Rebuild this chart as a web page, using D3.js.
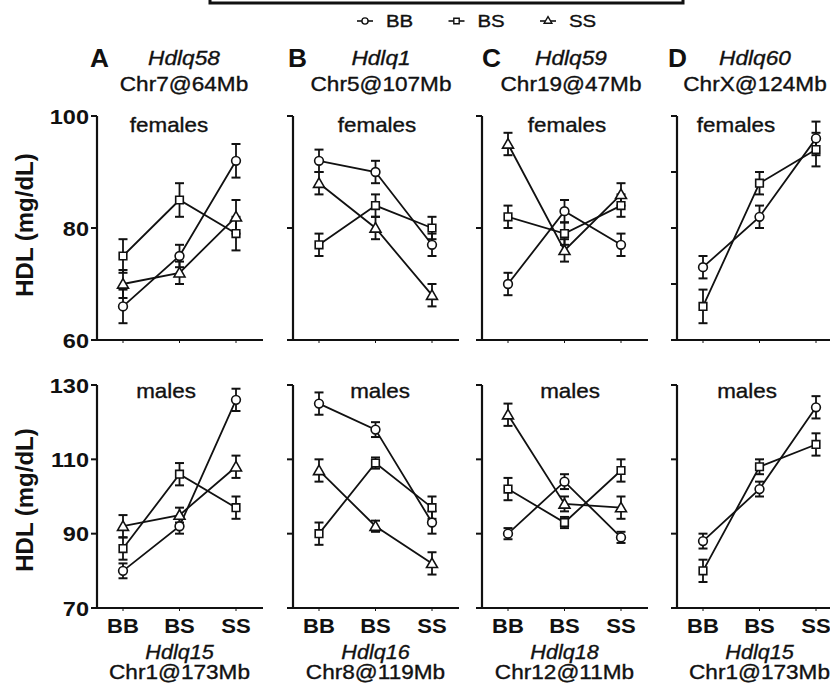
<!DOCTYPE html>
<html><head><meta charset="utf-8">
<script src="https://cdn.jsdelivr.net/npm/d3@7"></script>
<style>html,body{margin:0;padding:0;background:#fff;}svg{display:block;}</style>
</head><body>
<script>
// ---------- data ----------
const genotypes = ["BB", "BS", "SS"];
const panelLetters = ["A", "B", "C", "D"];
const topLoci = ["Hdlq58", "Hdlq1", "Hdlq59", "Hdlq60"];
const topChr = ["Chr7@64Mb", "Chr5@107Mb", "Chr19@47Mb", "ChrX@124Mb"];
const bottomLoci = ["Hdlq15", "Hdlq16", "Hdlq18", "Hdlq15"];
const bottomChr = ["Chr1@173Mb", "Chr8@119Mb", "Chr12@11Mb", "Chr1@173Mb"];
const femaleTicks = [60, 80, 100];
const femaleTicksD = [60, 70, 80, 90, 100];
const maleTicks = [70, 90, 110, 130];

const femBB = [[66, 75, 92], [92, 90, 77], [70, 83, 77], [73, 82, 96]];
const femBBerr = [[3, 2, 3], [2, 2, 2], [2, 2, 2], [2, 2, 3]];
const femBS = [[75, 85, 79], [77, 84, 80], [82, 79, 84], [66, 88, 94]];
const femBSerr = [[3, 3, 3], [2, 2, 2], [2, 2, 2], [3, 2, 3]];
const femSS = [[70, 72, 82], [88, 80, 68], [95, 76, 86], null];
const femSSerr = [[2.5, 2, 3], [2, 2, 2], [2, 2, 2], null];

const malBB = [[80, 92, 126], [125, 118, 93], [90, 104, 89], [88, 102, 124]];
const malBBerr = [[2, 2, 3], [3, 2, 3], [1.5, 2, 1.5], [2, 2, 3]];
const malBS = [[86, 106, 97], [90, 109, 97], [102, 93, 107], [80, 108, 114]];
const malBSerr = [[3, 3, 3], [3, 1.5, 3], [3, 1.5, 3], [3, 2, 3]];
const malSS = [[92, 95, 108], [107, 92, 82], [122, 98, 97], null];
const malSSerr = [[3, 2, 3], [3, 1.5, 3], [3, 2, 3], null];

const legendItems = ["BB", "BS", "SS"];

// ---------- layout ----------
const W = 830, H = 691;
const FONT = "'Liberation Sans', Arial, Helvetica, sans-serif";
const axisX = [97, 293, 482, 677];
const letterX = [90, 288, 482, 668];
const headX = [184, 381, 571, 755];
const femLabelX = [169, 377, 567, 736];
const malLabelX = [166, 380, 570, 747];

const svg = d3.select("body").append("svg").attr("width", W).attr("height", H)
  .style("font-family", FONT);

function T(sel, x, y, s, o = {}) {
  const t = sel.append("text")
    .attr("transform", `translate(${x},${y})` + (o.rot ? ` rotate(${o.rot})` : "") + ` scale(${o.sx || 1.12},1)`)
    .attr("text-anchor", o.anchor || "middle")
    .style("font-size", (o.size || 20) + "px")
    .style("font-weight", o.weight || "normal")
    .style("font-style", o.style || "normal")
    .attr("fill", "#111")
    .text(s);
  if (!o.weight) t.attr("stroke", "#111").attr("stroke-width", 0.35);
  return t;
}

// legend box (cut off at top)
svg.append("path").attr("d", "M210,-6V3H683V-6").attr("fill", "none")
  .attr("stroke", "#111").attr("stroke-width", 3);

const shapes = {
  BB: d3.symbol().type(d3.symbolCircle),
  BS: d3.symbol().type(d3.symbolSquare),
  SS: d3.symbol().type(d3.symbolTriangle)
};
const shapeSize = { BB: 60, BS: 58, SS: 52 };

// legend
const legX = d3.scalePoint().domain(legendItems).range([365, 548]);
legendItems.forEach(k => {
  const cx = legX(k);
  svg.append("line").attr("x1", cx - 8).attr("x2", cx + 8).attr("y1", 21).attr("y2", 21)
    .attr("stroke", "#111").attr("stroke-width", 1.6);
  svg.append("path").attr("d", shapes[k].size(shapeSize[k] * 0.5)())
    .attr("transform", `translate(${cx},21)`).attr("fill", "#fff").attr("stroke", "#111").attr("stroke-width", 1.4);
  T(svg, cx + 21, 27, k, { size: 17, anchor: "start", sx: 1.2 });
});

const yTop = d3.scaleLinear().domain([60, 100]).range([340, 116]);
const yBot = d3.scaleLinear().domain([70, 130]).range([608, 385]);

function drawPanel(i, y, ticks, series, labelText, labelX, labelY, showTickLabels) {
  const ax = axisX[i];
  const x = d3.scalePoint().domain(genotypes).range([ax + 26, ax + 139]);
  const g = svg.append("g");
  const [y0, y1] = y.range();
  // y axis
  g.append("line").attr("x1", ax).attr("x2", ax).attr("y1", y0).attr("y2", y1)
    .attr("stroke", "#111").attr("stroke-width", 2.2);
  ticks.forEach(t => {
    g.append("line").attr("x1", ax - 6).attr("x2", ax).attr("y1", y(t)).attr("y2", y(t))
      .attr("stroke", "#111").attr("stroke-width", 2);
    if (showTickLabels) T(g, ax - 8, y(t) + 7.5, String(t), { size: 21, weight: "bold", anchor: "end", sx: 1.12 });
  });
  // x axis
  g.append("line").attr("x1", ax - 1).attr("x2", ax + 166).attr("y1", y0).attr("y2", y0)
    .attr("stroke", "#111").attr("stroke-width", 2.2);
  genotypes.forEach(gt => {
    g.append("line").attr("x1", x(gt)).attr("x2", x(gt)).attr("y1", y0).attr("y2", y0 + 3)
      .attr("stroke", "#111").attr("stroke-width", 1);
  });
  T(g, labelX, labelY, labelText, { size: 20, sx: 1.12 });

  series.forEach(s => {
    if (!s.vals) return;
    const pts = genotypes.map((gt, j) => ({ x: x(gt), v: s.vals[j], e: s.err[j] }));
    // error bars
    pts.forEach(p => {
      const ya = y(p.v + p.e), yb = y(p.v - p.e);
      g.append("line").attr("x1", p.x).attr("x2", p.x).attr("y1", ya).attr("y2", yb)
        .attr("stroke", "#111").attr("stroke-width", 1.8);
      [ya, yb].forEach(yy => g.append("line").attr("x1", p.x - 4.5).attr("x2", p.x + 4.5)
        .attr("y1", yy).attr("y2", yy).attr("stroke", "#111").attr("stroke-width", 2));
    });
    g.append("path").datum(pts)
      .attr("d", d3.line().x(p => p.x).y(p => y(p.v)))
      .attr("fill", "none").attr("stroke", "#111").attr("stroke-width", 1.8);
  });
  series.forEach(s => {
    if (!s.vals) return;
    genotypes.forEach((gt, j) => {
      g.append("path").attr("d", shapes[s.key].size(shapeSize[s.key])())
        .attr("transform", `translate(${x(gt)},${y(s.vals[j]) + (s.key === "SS" ? 1 : 0)})`)
        .attr("fill", "#fff").attr("stroke", "#111").attr("stroke-width", 1.6);
    });
  });
  return x;
}

for (let i = 0; i < 4; i++) {
  // headers
  T(svg, letterX[i], 67, panelLetters[i], { size: 25, weight: "bold", anchor: "start", sx: 1.05 });
  T(svg, headX[i], 65, topLoci[i], { size: 21, style: "italic", sx: 1.08 });
  T(svg, headX[i], 91, topChr[i], { size: 20, sx: 1.13 });

  drawPanel(i, yTop, i === 3 ? femaleTicksD : femaleTicks,
    [{ key: "BB", vals: femBB[i], err: femBBerr[i] },
     { key: "BS", vals: femBS[i], err: femBSerr[i] },
     { key: "SS", vals: femSS[i], err: femSSerr[i] }],
    "females", femLabelX[i], 132, i === 0);

  const x = drawPanel(i, yBot, maleTicks,
    [{ key: "BB", vals: malBB[i], err: malBBerr[i] },
     { key: "BS", vals: malBS[i], err: malBSerr[i] },
     { key: "SS", vals: malSS[i], err: malSSerr[i] }],
    "males", malLabelX[i], 398, i === 0);

  genotypes.forEach(gt => T(svg, x(gt), 633, gt, { size: 21, weight: "bold", sx: 1.05 }));
  T(svg, x("BS"), 659, bottomLoci[i], { size: 20, style: "italic", sx: 1.08 });
  T(svg, x("BS"), 679, bottomChr[i], { size: 20, sx: 1.13 });
}

// y-axis titles
T(svg, 33, 225, "HDL (mg/dL)", { size: 24, weight: "bold", rot: -90, sx: 1 });
T(svg, 33, 500, "HDL (mg/dL)", { size: 24, weight: "bold", rot: -90, sx: 1 });
</script>
</body></html>
